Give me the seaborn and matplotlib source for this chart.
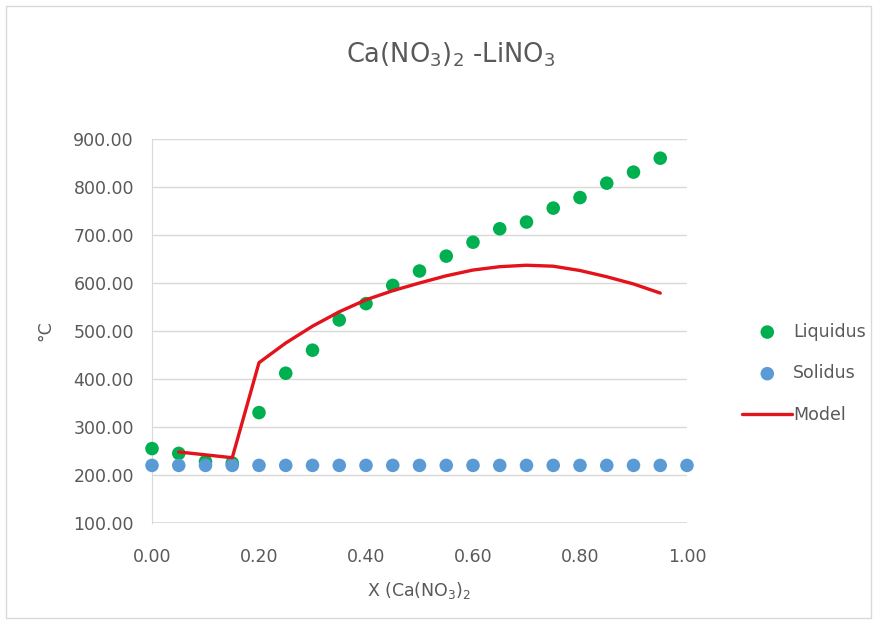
import matplotlib
matplotlib.use("Agg")
import matplotlib.pyplot as plt
import seaborn as sns
import pandas as pd
from matplotlib.patches import Rectangle

# ---- data ----
liq_x = [0.00, 0.05, 0.10, 0.15, 0.20, 0.25, 0.30, 0.35, 0.40, 0.45, 0.50,
         0.55, 0.60, 0.65, 0.70, 0.75, 0.80, 0.85, 0.90, 0.95]
liq_y = [255, 245, 228, 225, 330, 412, 460, 523, 557, 595, 625,
         656, 685, 713, 727, 756, 778, 808, 831, 860]

sol_x = [0.00, 0.05, 0.10, 0.15, 0.20, 0.25, 0.30, 0.35, 0.40, 0.45, 0.50,
         0.55, 0.60, 0.65, 0.70, 0.75, 0.80, 0.85, 0.90, 0.95, 1.00]
sol_y = [220] * 21

mod_x = [0.05, 0.10, 0.15, 0.20, 0.25, 0.30, 0.35, 0.40, 0.45, 0.50,
         0.55, 0.60, 0.65, 0.70, 0.75, 0.80, 0.85, 0.90, 0.95]
mod_y = [248, 242, 236, 434, 475, 510, 540, 565, 584, 600,
         615, 627, 634, 637, 635, 626, 613, 598, 579]

y_ticks = [100, 200, 300, 400, 500, 600, 700, 800, 900]
x_ticks = [0.0, 0.2, 0.4, 0.6, 0.8, 1.0]

sns.set_style("white")
plt.rcParams['font.family'] = ['DejaVu Sans']
plt.rcParams['mathtext.default'] = 'regular'
gray = '#595959'

fig = plt.figure(figsize=(8.77, 6.24), dpi=100)
ax = fig.add_axes([152/877, 1-523/624, (687-152)/877, (523-139)/624])

liq = pd.DataFrame({'x': liq_x, 'y': liq_y})
sol = pd.DataFrame({'x': sol_x, 'y': sol_y})
mod = pd.DataFrame({'x': mod_x, 'y': mod_y})

sns.scatterplot(data=liq, x='x', y='y', ax=ax, color='#00B050', s=95,
                edgecolor='none', label='Liquidus', clip_on=False, zorder=3)
sns.scatterplot(data=sol, x='x', y='y', ax=ax, color='#5B9BD5', s=95,
                edgecolor='none', label='Solidus', clip_on=False, zorder=4)
sns.lineplot(data=mod, x='x', y='y', ax=ax, color='#E3121B', lw=2.4,
             label='Model', zorder=5)

ax.set_xlim(0, 1.0)
ax.set_ylim(100, 900)
ax.set_xticks(x_ticks)
ax.set_yticks(y_ticks)
ax.set_xticklabels([f"{v:.2f}" for v in x_ticks])
ax.set_yticklabels([f"{v:.2f}" for v in y_ticks])
ax.tick_params(colors=gray, labelsize=12.5, length=0)
ax.tick_params(axis='x', pad=18)
ax.tick_params(axis='y', pad=13)
ax.grid(axis='y', color='#D9D9D9', lw=1)
for s in ['top', 'right', 'bottom']:
    ax.spines[s].set_visible(False)
ax.spines['left'].set_color('#D9D9D9')
ax.axhline(100, color='#D9D9D9', lw=1.2, zorder=1)

ax.set_xlabel("X (Ca(NO$_3$)$_2$", color=gray, fontsize=12.5, labelpad=10)
ax.set_ylabel("°C", color=gray, fontsize=12.5, labelpad=14)
fig.text(451/877, 1-55/624, "Ca(NO$_3$)$_2$ -LiNO$_3$", ha='center', va='center',
         color=gray, fontsize=18.5)

leg = ax.legend(loc='center left', bbox_to_anchor=(1.103, 0.39), frameon=False,
                fontsize=12.5, labelspacing=1.36, handlelength=2.9, handletextpad=0.05,
                borderpad=0, borderaxespad=0)
for t in leg.get_texts():
    t.set_color(gray)

fig.patches.append(Rectangle((6/877, 6/624), 865/877, 612/624, transform=fig.transFigure,
                             fill=False, edgecolor='#D9D9D9', lw=1))

fig.savefig("out.png", dpi=100)
